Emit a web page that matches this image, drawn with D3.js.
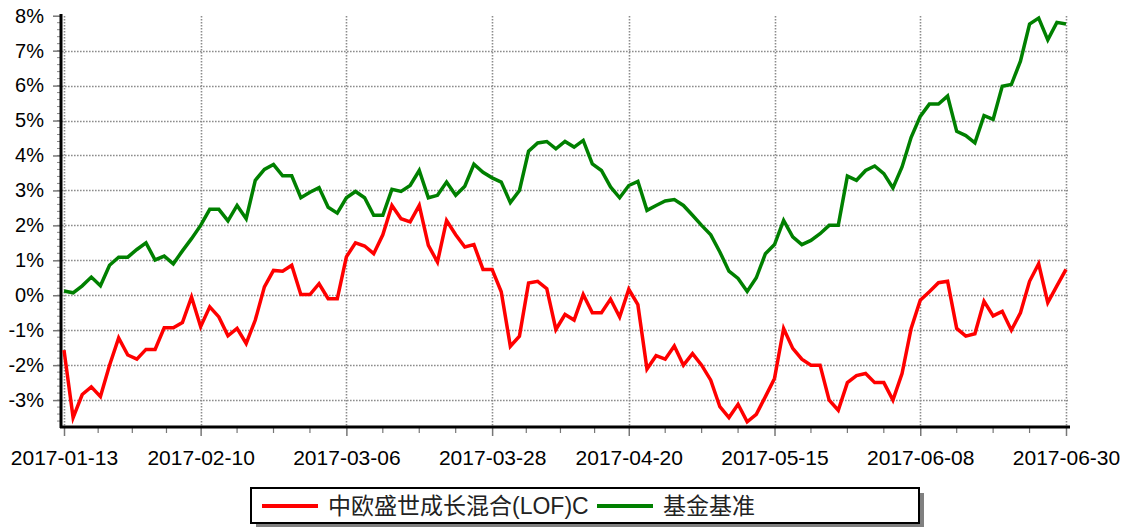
<!DOCTYPE html>
<html>
<head>
<meta charset="utf-8">
<script src="https://cdn.jsdelivr.net/npm/d3@7"></script>
<style>
body { margin:0; background:#fff; }
text { font-family: "Liberation Sans", Arial, "Noto Sans CJK SC", sans-serif; fill:#000; }
</style>
</head>
<body>
<script>
// trading days
var dates = ["2017-01-13","2017-01-16","2017-01-17","2017-01-18","2017-01-19","2017-01-20","2017-01-23","2017-01-24","2017-01-25","2017-01-26",
"2017-02-03","2017-02-06","2017-02-07","2017-02-08","2017-02-09","2017-02-10","2017-02-13","2017-02-14","2017-02-15","2017-02-16",
"2017-02-17","2017-02-20","2017-02-21","2017-02-22","2017-02-23","2017-02-24","2017-02-27","2017-02-28","2017-03-01","2017-03-02",
"2017-03-03","2017-03-06","2017-03-07","2017-03-08","2017-03-09","2017-03-10","2017-03-13","2017-03-14","2017-03-15","2017-03-16",
"2017-03-17","2017-03-20","2017-03-21","2017-03-22","2017-03-23","2017-03-24","2017-03-27","2017-03-28","2017-03-29","2017-03-30",
"2017-03-31","2017-04-05","2017-04-06","2017-04-07","2017-04-10","2017-04-11","2017-04-12","2017-04-13","2017-04-14","2017-04-17",
"2017-04-18","2017-04-19","2017-04-20","2017-04-21","2017-04-24","2017-04-25","2017-04-26","2017-04-27","2017-04-28","2017-05-02",
"2017-05-03","2017-05-04","2017-05-05","2017-05-08","2017-05-09","2017-05-10","2017-05-11","2017-05-12","2017-05-15","2017-05-16",
"2017-05-17","2017-05-18","2017-05-19","2017-05-22","2017-05-23","2017-05-24","2017-05-25","2017-05-26","2017-05-31","2017-06-01",
"2017-06-02","2017-06-05","2017-06-06","2017-06-07","2017-06-08","2017-06-09","2017-06-12","2017-06-13","2017-06-14","2017-06-15",
"2017-06-16","2017-06-19","2017-06-20","2017-06-21","2017-06-22","2017-06-23","2017-06-26","2017-06-27","2017-06-28","2017-06-29",
"2017-06-30"];

// 中欧盛世成长混合(LOF)C, %
var fund = [-1.57,-3.50,-2.84,-2.62,-2.90,-2.00,-1.22,-1.71,-1.83,-1.55,
-1.55,-0.93,-0.93,-0.78,-0.05,-0.90,-0.33,-0.62,-1.16,-0.95,
-1.38,-0.71,0.24,0.71,0.69,0.86,0.02,0.02,0.33,-0.10,
-0.10,1.10,1.50,1.41,1.19,1.73,2.57,2.19,2.10,2.57,
1.43,0.95,2.14,1.73,1.38,1.45,0.74,0.74,0.10,-1.46,
-1.17,0.35,0.40,0.19,-0.98,-0.55,-0.71,0.02,-0.50,-0.50,
-0.11,-0.62,0.17,-0.27,-2.11,-1.73,-1.83,-1.45,-2.00,-1.67,
-2.00,-2.43,-3.19,-3.50,-3.12,-3.62,-3.41,-2.90,-2.38,-0.95,
-1.52,-1.83,-2.00,-2.00,-3.00,-3.29,-2.50,-2.30,-2.24,-2.50,
-2.50,-3.00,-2.24,-0.95,-0.14,0.10,0.36,0.40,-0.95,-1.17,
-1.10,-0.17,-0.59,-0.46,-1.00,-0.50,0.40,0.90,-0.21,0.27,
0.74];

// 基金基准, %
var bench = [0.12,0.07,0.27,0.52,0.27,0.86,1.09,1.09,1.31,1.50,
1.01,1.12,0.90,1.27,1.62,2.00,2.46,2.46,2.13,2.57,
2.19,3.29,3.60,3.74,3.42,3.42,2.79,2.95,3.08,2.52,
2.35,2.79,2.97,2.79,2.29,2.29,3.03,2.97,3.14,3.57,
2.79,2.86,3.24,2.86,3.12,3.75,3.52,3.36,3.24,2.65,
3.00,4.12,4.36,4.40,4.19,4.40,4.24,4.43,3.76,3.57,
3.10,2.79,3.14,3.26,2.43,2.57,2.70,2.74,2.57,2.29,
2.00,1.73,1.24,0.69,0.48,0.11,0.50,1.19,1.45,2.14,
1.67,1.45,1.57,1.76,2.00,2.00,3.41,3.29,3.57,3.70,
3.48,3.07,3.67,4.52,5.12,5.47,5.47,5.70,4.69,4.57,
4.36,5.14,5.03,5.98,6.03,6.70,7.76,7.93,7.31,7.81,
7.76];

var tickDates = ["2017-01-13","2017-02-10","2017-03-06","2017-03-28","2017-04-20","2017-05-15","2017-06-08","2017-06-30"];
var yTicks = [-3,-2,-1,0,1,2,3,4,5,6,7,8];
var seriesNames = ["中欧盛世成长混合(LOF)C","基金基准"];
var seriesColors = ["#ff0000","#008000"];

var W = 1127, H = 527;
var svg = d3.select("body").append("svg").attr("width",W).attr("height",H);

var x = d3.scaleLinear().domain([0,dates.length-1]).range([64,1066]);
var y = d3.scaleLinear().domain([-3.77,8]).range([427,15.7]);

var tickIdx = tickDates.map(function(d){ return dates.indexOf(d); });

// grid (dotted, snapped to pixels)
var grid = svg.append("g");
grid.selectAll(".hg").data(yTicks.filter(function(v){ return v < 8; })).enter().append("line")
    .attr("x1",62).attr("x2",1068)
    .attr("y1",function(d){ return Math.round(y(d)) + 0.5; }).attr("y2",function(d){ return Math.round(y(d)) + 0.5; })
    .style("stroke","#8c8c8c").style("stroke-width",1.6).style("stroke-dasharray","1.6,1.4");
grid.selectAll(".vg").data(tickIdx).enter().append("line")
    .attr("x1",function(d){ return Math.round(x(d)) + 0.5; }).attr("x2",function(d){ return Math.round(x(d)) + 0.5; })
    .attr("y1",16).attr("y2",427)
    .style("stroke","#8c8c8c").style("stroke-width",1.6).style("stroke-dasharray","1.6,1.4");

// minor x ticks, 4 per interval
var minorX = [];
for (var k=0; k<tickIdx.length-1; k++){
    for (var m=1; m<4; m++) minorX.push(tickIdx[k] + (tickIdx[k+1]-tickIdx[k])*m/4);
}
svg.append("g").selectAll("line").data(minorX).enter().append("line")
    .attr("x1",function(d){ return x(d); }).attr("x2",function(d){ return x(d); })
    .attr("y1",427).attr("y2",433)
    .style("stroke","#777").style("stroke-width",1.2);

// x axis
var xAxis = d3.axisBottom(x).tickValues(tickIdx).tickSize(9).tickPadding(10)
    .tickFormat(function(d){ return dates[d]; });
var gx = svg.append("g").attr("transform","translate(0,427)").call(xAxis);
gx.select(".domain").remove();
gx.selectAll(".tick line").style("stroke","#777").style("stroke-width",1.5);
gx.selectAll(".tick text").style("font-size","21px").attr("dy","0.9em");

// minor y ticks
var minorY = [];
for (var v=-3.6; v<8; v+=0.2) minorY.push(Math.round(v*10)/10);
svg.append("g").selectAll("line").data(minorY).enter().append("line")
    .attr("x1",57).attr("x2",61)
    .attr("y1",function(d){ return y(d); }).attr("y2",function(d){ return y(d); })
    .style("stroke","#888").style("stroke-width",1);

// y axis
var yAxis = d3.axisLeft(y).tickValues(yTicks).tickSize(8).tickPadding(9)
    .tickFormat(function(d){ return d + "%"; });
var gy = svg.append("g").attr("transform","translate(61,0)").call(yAxis);
gy.select(".domain").remove();
gy.selectAll(".tick line").style("stroke","#777").style("stroke-width",1.5);
gy.selectAll(".tick text").style("font-size","20px");

// axis lines
svg.append("line").attr("x1",61).attr("x2",61).attr("y1",14).attr("y2",428)
    .style("stroke","#000").style("stroke-width",3);
svg.append("line").attr("x1",60).attr("x2",1070).attr("y1",427).attr("y2",427)
    .style("stroke","#000").style("stroke-width",3);

// lines
var line = d3.line().x(function(d,i){ return x(i); }).y(function(d){ return y(d); });
[fund,bench].forEach(function(s,i){
    svg.append("path").datum(s).attr("d",line)
        .style("fill","none").style("stroke",seriesColors[i]).style("stroke-width",3.5)
        .style("stroke-linejoin","miter");
});

// legend
var lg = svg.append("g");
lg.append("rect").attr("x",256).attr("y",493).attr("width",668).attr("height",34).style("fill","#808080");
lg.append("rect").attr("x",251).attr("y",488).attr("width",668).attr("height",35)
    .style("fill","#fff").style("stroke","#000").style("stroke-width",2);
var lx = [262,597];
seriesNames.forEach(function(n,i){
    lg.append("line").attr("x1",lx[i]).attr("x2",lx[i]+56).attr("y1",506).attr("y2",506)
        .style("stroke",seriesColors[i]).style("stroke-width",4);
    lg.append("text").attr("x",lx[i]+66).attr("y",514).text(n).style("font-size","23px").style("fill","#222");
});
</script>
</body>
</html>
